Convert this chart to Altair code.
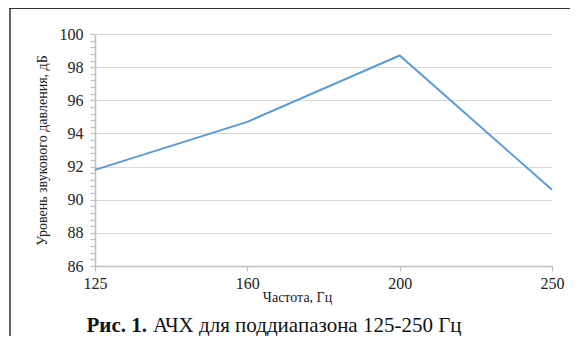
import altair as alt
import pandas as pd

freq_labels = ["125", "160", "200", "250"]
spl_values = [91.8, 94.7, 98.7, 90.6]
x_title = "Частота, Гц"
y_title = "Уровень звукового давления, дБ"
caption_bold = "Рис. 1."
caption_text = "АЧХ для поддиапазона 125-250 Гц"

df = pd.DataFrame({
    "freq": freq_labels,
    "spl": spl_values,
})

y_ticks = [round(86 + 0.4 * i, 1) for i in range(int((100 - 86) / 0.4) + 1)]
y_label_expr = "abs(datum.value - 2*round(datum.value/2)) < 0.01 ? format(datum.value, 'd') : ''"
y_major_test = "abs(datum.value - 2*round(datum.value/2)) < 0.01"

FONT = "Liberation Serif"
W, H = 457, 232

xscale = alt.Scale(type="point", domain=freq_labels, padding=0)
yscale = alt.Scale(domain=[86, 100], nice=False, zero=False)

line = alt.Chart(df).mark_line(color="#5b9bd5", strokeWidth=2).encode(
    x=alt.X("freq:O", scale=xscale, sort=freq_labels, axis=alt.Axis(
        orient="bottom", labelAngle=0,
        ticks=True, tickSize=5, tickColor="#bfbfbf", tickWidth=1.2,
        grid=False, domain=True, domainColor="#bfbfbf", domainWidth=1.5,
        labelFont=FONT, labelFontSize=16, labelColor="#222", labelPadding=4,
        title=x_title, titleFont=FONT, titleFontSize=14, titleFontWeight="normal",
        titleColor="#222", titleX=202, titleY=24, titleAlign="center",
        titleBaseline="top")),
    y=alt.Y("spl:Q", scale=yscale, axis=alt.Axis(
        orient="left", values=y_ticks, labelExpr=y_label_expr,
        ticks=True, tickSize=5, tickColor="#bfbfbf", tickWidth=1.2,
        grid=True, gridColor="#d9d9d9", gridWidth=1.2,
        gridOpacity={"condition": {"test": y_major_test, "value": 1}, "value": 0},
        domain=True, domainColor="#bfbfbf",
        domainWidth=1.5, labelFont=FONT, labelFontSize=16, labelColor="#222",
        labelPadding=7, labelOverlap=False, labelFlush=False,
        title=y_title, titleFont=FONT, titleFontSize=14,
        titleFontWeight="normal", titleColor="#222", titlePadding=10)),
)

cap_df = pd.DataFrame({"a": [caption_bold], "b": [caption_text]})
cap1 = alt.Chart(cap_df).mark_text(
    font=FONT, fontSize=21, fontWeight="bold", align="right",
    baseline="alphabetic", color="#111"
).encode(text="a:N", x=alt.value(52), y=alt.value(298))
cap2 = alt.Chart(cap_df).mark_text(
    font=FONT, fontSize=21, fontWeight="normal", align="left",
    baseline="alphabetic", color="#111"
).encode(text="b:N", x=alt.value(58), y=alt.value(298))

frame_top = alt.Chart(cap_df).mark_rule(color="#333", strokeWidth=2).encode(
    x=alt.value(-86), x2=alt.value(W + 40), y=alt.value(-26))
frame_left = alt.Chart(cap_df).mark_rule(color="#333", strokeWidth=1.5).encode(
    x=alt.value(-85), y=alt.value(-26), y2=alt.value(H + 90))

chart = alt.layer(line, cap1, cap2, frame_top, frame_left).properties(
    width=W, height=H,
    background="white",
    autosize=alt.AutoSizeParams(type="none"),
    padding={"left": 87, "top": 26, "right": 18, "bottom": 70},
).configure_axisX(grid=False).configure_view(strokeWidth=0, stroke="transparent")

chart.save("out.html", embed_options={"renderer": "svg", "actions": False})
